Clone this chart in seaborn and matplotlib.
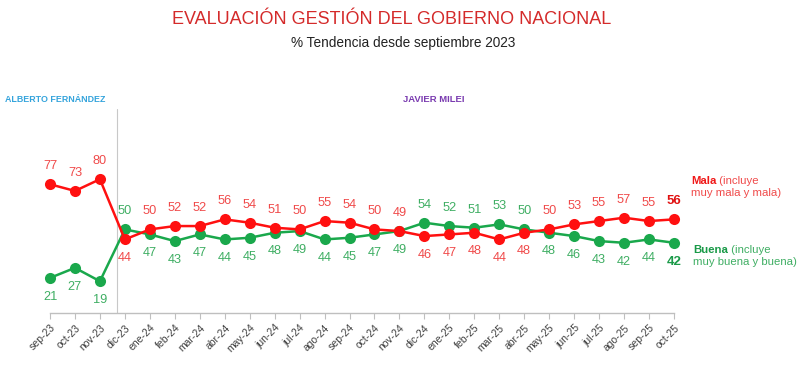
import matplotlib
matplotlib.use("Agg")
import matplotlib.pyplot as plt
import seaborn as sns
import pandas as pd

months = ["sep-23", "oct-23", "nov-23", "dic-23", "ene-24", "feb-24", "mar-24", "abr-24",
          "may-24", "jun-24", "jul-24", "ago-24", "sep-24", "oct-24", "nov-24", "dic-24",
          "ene-25", "feb-25", "mar-25", "abr-25", "may-25", "jun-25", "jul-25", "ago-25",
          "sep-25", "oct-25"]
mala = [77, 73, 80, 44, 50, 52, 52, 56, 54, 51, 50, 55, 54, 50, 49, 46, 47, 48, 44, 48,
        50, 53, 55, 57, 55, 56]
buena = [21, 27, 19, 50, 47, 43, 47, 44, 45, 48, 49, 44, 45, 47, 49, 54, 52, 51, 53, 50,
         48, 46, 43, 42, 44, 42]

title = "EVALUACIÓN GESTIÓN DEL GOBIERNO NACIONAL"
subtitle = "% Tendencia desde septiembre 2023"

RED = "#ff1010"
GREEN = "#1aa84c"
RED_LBL = "#f04a4a"
GREEN_LBL = "#3fae63"

sns.set_theme(style="white")
plt.rcParams["font.family"] = ["Liberation Sans", "DejaVu Sans"]

df = pd.DataFrame({
    "idx": list(range(len(months))) * 2,
    "valor": mala + buena,
    "serie": ["Mala"] * len(months) + ["Buena"] * len(months),
})

fig = plt.figure(figsize=(8, 3.78), dpi=100)
ax = fig.add_axes([0.0625, 65 / 378, 0.78, 209 / 378])

sns.lineplot(data=df, x="idx", y="valor", hue="serie",
             palette={"Mala": RED, "Buena": GREEN}, hue_order=["Buena", "Mala"],
             marker="o", markersize=8, markeredgewidth=0, linewidth=1.8,
             legend=False, sort=False, ax=ax)
for ln in ax.lines:
    ln.set_clip_on(False)

ax.set_xlim(0, len(months) - 1)
ax.set_ylim(0, 125)
ax.set_xlabel("")
ax.set_ylabel("")
ax.set_yticks([])
ax.set_xticks(range(len(months)))
ax.set_xticklabels(months, rotation=45, ha="right", rotation_mode="anchor",
                   fontsize=7.5, color="#404040")
for s in ["top", "left", "right"]:
    ax.spines[s].set_visible(False)
ax.spines["bottom"].set_color("#bfbfbf")
ax.spines["bottom"].set_linewidth(1.0)
ax.tick_params(axis="x", which="major", direction="out", length=4, width=0.8,
               color="#bfbfbf", pad=3, bottom=True)

# separator between governments
ax.plot([2.7, 2.7], [0, 122], color="#c8c8c8", lw=0.8, clip_on=False, zorder=0)

# value labels
n = len(months)
for i in range(n):
    m, b = mala[i], buena[i]
    last = i == n - 1
    m_above = m >= b
    ax.annotate(str(m), (i, m), xytext=(0, 13 if m_above else -13.5),
                textcoords="offset points", ha="center", va="center",
                fontsize=9.2 if not last else 9.5,
                fontweight="bold" if last else "normal",
                color="#e01010" if last else RED_LBL)
    ax.annotate(str(b), (i, b), xytext=(0, -13.5 if m_above else 13),
                textcoords="offset points", ha="center", va="center",
                fontsize=9.2 if not last else 9.5,
                fontweight="bold" if last else "normal",
                color="#1a9a48" if last else GREEN_LBL)

# series descriptions on the right
t1 = fig.text(691 / 800, 1 - 181 / 378, "Mala", fontsize=8.2, fontweight="bold",
              color="#f01818", va="center", ha="left")
ax.annotate(" (incluye", xy=(1, 0.5), xycoords=t1, va="center", ha="left",
            fontsize=8.2, color=RED_LBL)
fig.text(691 / 800, 1 - 193 / 378, "muy mala y mala)", fontsize=8.2,
         color=RED_LBL, va="center", ha="left")
t2 = fig.text(693 / 800, 1 - 250 / 378, "Buena", fontsize=8.2, fontweight="bold",
              color="#1a9a48", va="center", ha="left")
ax.annotate(" (incluye", xy=(1, 0.5), xycoords=t2, va="center", ha="left",
            fontsize=8.2, color=GREEN_LBL)
fig.text(693 / 800, 1 - 262 / 378, "muy buena y buena)", fontsize=8.2,
         color=GREEN_LBL, va="center", ha="left")

# titles
fig.text(0.49, 1 - 20 / 378, title, fontsize=13, color="#d42a2a",
         ha="center", va="center")
fig.text(0.504, 1 - 43 / 378, subtitle, fontsize=9.8, color="#222222",
         ha="center", va="center")

# government labels
fig.text(5 / 800, 1 - 99 / 378, "ALBERTO FERNÁNDEZ", fontsize=6.4,
         color="#35a4dc", ha="left", va="center", fontweight="bold")
fig.text(403 / 800, 1 - 99 / 378, "JAVIER MILEI", fontsize=6.8,
         color="#7a3bb0", ha="left", va="center", fontweight="bold")

fig.savefig("out.png", dpi=100, facecolor="white")
